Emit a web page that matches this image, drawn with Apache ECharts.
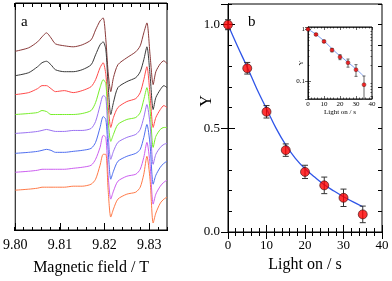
<!DOCTYPE html>
<html><head><meta charset="utf-8">
<script src="https://cdn.jsdelivr.net/npm/echarts@6/dist/echarts.min.js"></script>
<style>html,body{margin:0;padding:0;background:#fff}#c{width:392px;height:281px}</style>
</head><body><div id="c"></div>
<script>
// ---------- Panel a: EPR spectra (arbitrary intensity, offset traces) ----------
const fieldT = [9.800,9.803,9.805,9.806,9.807,9.808,9.809,9.811,9.813,9.815,9.817,9.818,9.819,9.8197,9.8203,9.8208,9.8214,9.822,9.823,9.825,9.827,9.828,9.8288,9.8295,9.8302,9.8309,9.8315,9.8325,9.8333,9.834];
const traceMaroon  = [179.5,183,189,194,198,193,187,185,184,186,191,201,210,213,191,159,139,153,166,173,179,185,198,208,176,146,159,167,170,167];
const traceBlack   = [155,158,164,168,169.5,166,161,159,159,161,166,176,186,189,181,146,116,128,143,149,153,159,171,184,156,121,133,141,145,143];
const traceRed     = [136,138,142,145,145,142,139,140,138,140,144,151,163,168,156,126,103,113,123,129,132,138,151,164,136,103,113,121,125,123];
const traceGreen   = [116,117,118,120,119,116,116,116,116,117,120,128,143,151,147,111,89,96,106,111,113,118,131,143,121,83,94,101,103,103];
const traceViolet  = [97,98,99,100,101,100,99,99,100,100,102,109,125,135,133,96,71,79,88,93,96,101,113,126,106,66,76,83,86,87];
const traceBlue    = [77,78,79,80,81,80,78,78,79,80,82,88,103,114,111,81,51,59,69,74,77,81,93,106,86,46,55,63,67,69];
const traceMagenta = [58,59,60,61,61,61,61,61,62,63,65,71,83,95,93,56,31,39,49,54,56,61,73,88,66,26,36,44,48,50];
const traceOrange  = [40,41,42,43,43,43,43,43,44,44,46,51,65,76,76,41,13,21,31,36,38,43,56,74,51,7,17,27,31,33];
const fieldTickLabels = ['9.80','9.81','9.82','9.83'];

// ---------- Panel b: decay ----------
const lightOn = [0,5,10,15,20,25,30,35];
const yValues = [1.0,0.79,0.58,0.395,0.29,0.225,0.165,0.085];
const yErr    = [0.024,0.028,0.03,0.03,0.032,0.04,0.042,0.04];
const fitT = [0,2.5,5,7.5,10,12.5,15,17.5,20,22.5,25,27.5,30,32.5,35];
const fitY = [1.0,0.895,0.795,0.69,0.595,0.50,0.42,0.355,0.305,0.265,0.228,0.198,0.17,0.145,0.122];
const yTickLabels = ['0.0','0.5','1.0'];
const insetYTickLabels = ['0.1','1'];

const traces = [traceMaroon,traceBlack,traceRed,traceGreen,traceViolet,traceBlue,traceMagenta,traceOrange];
const traceColors = ['#8a3a3a','#3a3a3a','#ff4a4a','#77ee2a','#9a72f2','#4f6ef0','#cc5ef0','#ff7a48'];

const SERIF = '"Liberation Serif", "Times New Roman", serif';
const BLK = '#000';

function errRender(capHalf, color){
  return function(params, api){
    const cs = params.coordSys;
    const x = api.value(0), lo = api.value(1), hi = api.value(2);
    const a = api.coord([x, hi]), b = api.coord([x, lo]);
    const top = Math.max(a[1], cs.y), bot = Math.min(b[1], cs.y + cs.height);
    const px = a[0];
    const st = {stroke: color, lineWidth: 1};
    const ch = [{type:'line', shape:{x1:px,y1:top,x2:px,y2:bot}, style:st}];
    if (a[1] >= cs.y) ch.push({type:'line', shape:{x1:px-capHalf,y1:a[1],x2:px+capHalf,y2:a[1]}, style:st});
    if (b[1] <= cs.y + cs.height) ch.push({type:'line', shape:{x1:px-capHalf,y1:b[1],x2:px+capHalf,y2:b[1]}, style:st});
    return {type:'group', children: ch};
  };
}
const errData = lightOn.map((t,i)=>[t, yValues[i]-yErr[i], yValues[i]+yErr[i]]);

function tickAxis(o){
  return Object.assign({
    type:'value', splitLine:{show:false},
    axisLine:{show:true, lineStyle:{color:BLK, width:1}},
    axisTick:{show:true, inside:true, length:7, lineStyle:{color:BLK, width:1}},
    axisLabel:{show:false}
  }, o);
}

const option = {
  animation:false,
  backgroundColor:'#fff',
  grid:[
    {left:14, top:3, width:153, height:228, show:true, borderColor:BLK, borderWidth:1},
    {left:14, top:3, width:153, height:228, show:false},
    {left:228, top:4, width:154, height:228, show:true, borderColor:BLK, borderWidth:1},
    {left:228, top:4, width:154, height:228, show:false},
    {left:308, top:27, width:64, height:72, show:true, borderColor:BLK, borderWidth:1, backgroundColor:'#fff'},
    {left:308, top:27, width:64, height:72, show:false}
  ],
  xAxis:[
    tickAxis({gridIndex:0, position:'bottom', min:9.80, max:9.834, interval:0.01,
      axisLabel:{show:true, fontSize:14, fontFamily:SERIF, color:BLK, margin:8, showMaxLabel:false,
        formatter:(v)=>{const s=v.toFixed(2); return fieldTickLabels.indexOf(s)>=0?s:'';}},
      name:'Magnetic field / T', nameLocation:'middle', nameGap:30,
      nameTextStyle:{fontSize:16, fontFamily:SERIF, color:BLK}}),
    tickAxis({gridIndex:0, position:'top', min:9.80, max:9.834, interval:0.01}),
    tickAxis({gridIndex:1, position:'bottom', min:9.80, max:9.834, interval:0.002, axisLine:{show:false},
      axisTick:{show:true, inside:true, length:4, lineStyle:{color:BLK, width:1}}}),
    tickAxis({gridIndex:1, position:'top', min:9.80, max:9.834, interval:0.002, axisLine:{show:false},
      axisTick:{show:true, inside:true, length:4, lineStyle:{color:BLK, width:1}}}),
    tickAxis({gridIndex:2, position:'bottom', min:0, max:40, interval:10,
      minorTick:{show:true, splitNumber:5, length:4, lineStyle:{color:BLK, width:1}},
      axisLabel:{show:true, fontSize:13, fontFamily:SERIF, color:BLK, margin:7},
      name:'Light on / s', nameLocation:'middle', nameGap:24,
      nameTextStyle:{fontSize:16, fontFamily:SERIF, color:BLK}}),
    tickAxis({gridIndex:2, position:'top', min:0, max:40, interval:10,
      minorTick:{show:true, splitNumber:5, length:4, lineStyle:{color:BLK, width:1}}}),
    tickAxis({gridIndex:4, position:'bottom', min:0, max:40, interval:10,
      axisTick:{show:true, inside:true, length:3, lineStyle:{color:BLK, width:0.6}},
      minorTick:{show:true, splitNumber:5, length:1.5, lineStyle:{color:BLK, width:0.6}},
      axisLine:{show:true, lineStyle:{color:BLK, width:0.6}},
      axisLabel:{show:true, fontSize:7, fontFamily:SERIF, color:BLK, margin:2},
      name:'Light on / s', nameLocation:'middle', nameGap:8,
      nameTextStyle:{fontSize:7, fontFamily:SERIF, color:BLK}}),
    tickAxis({gridIndex:4, position:'top', min:0, max:40, interval:10,
      axisTick:{show:true, inside:true, length:3, lineStyle:{color:BLK, width:0.6}},
      minorTick:{show:true, splitNumber:5, length:1.5, lineStyle:{color:BLK, width:0.6}},
      axisLine:{show:true, lineStyle:{color:BLK, width:0.6}}}),
    {type:'value', gridIndex:3, min:0, max:40, show:false},
    {type:'value', gridIndex:5, min:0, max:40, show:false}
  ],
  yAxis:[
    {type:'value', gridIndex:0, min:0, max:228, show:false},
    {type:'value', gridIndex:1, min:0, max:228, show:false},
    tickAxis({gridIndex:2, position:'left', min:0, max:1.1, interval:0.5,
      axisLabel:{show:true, fontSize:13, fontFamily:SERIF, color:BLK, margin:8, showMaxLabel:false,
        formatter:(v)=>{const s=v.toFixed(1); return yTickLabels.indexOf(s)>=0?s:'';}}}),
    tickAxis({gridIndex:2, position:'right', min:0, max:1.1, interval:0.5}),
    tickAxis({gridIndex:3, position:'left', min:0, max:1.1, interval:0.1, axisLine:{show:false},
      axisTick:{show:true, inside:true, length:4, lineStyle:{color:BLK, width:1}}}),
    tickAxis({gridIndex:3, position:'right', min:0, max:1.1, interval:0.1, axisLine:{show:false},
      axisTick:{show:true, inside:true, length:4, lineStyle:{color:BLK, width:1}}}),
    tickAxis({type:'log', logBase:10, gridIndex:4, position:'left', min:0.045, max:1.1,
      axisTick:{show:true, inside:true, length:3, lineStyle:{color:BLK, width:0.6}},
      axisLine:{show:true, lineStyle:{color:BLK, width:0.6}},
      axisLabel:{show:true, fontSize:7, fontFamily:SERIF, color:BLK, margin:3, showMinLabel:false, showMaxLabel:false,
        formatter:(v)=>{ if (Math.abs(v-1)<1e-6) return insetYTickLabels[1]; if (Math.abs(v-0.1)<1e-7) return insetYTickLabels[0]; return ''; }}}),
    tickAxis({type:'log', logBase:10, gridIndex:4, position:'right', min:0.045, max:1.1,
      axisTick:{show:true, inside:true, length:3, lineStyle:{color:BLK, width:0.6}},
      axisLine:{show:true, lineStyle:{color:BLK, width:0.6}}}),
    tickAxis({type:'log', logBase:10, gridIndex:5, position:'left', min:0.045, max:1.1, axisLine:{show:false},
      axisTick:{show:true, inside:true, length:1.5, lineStyle:{color:BLK, width:0.6},
        customValues:[0.05,0.06,0.07,0.08,0.09,0.2,0.3,0.4,0.5,0.6,0.7,0.8,0.9]}}),
    tickAxis({type:'log', logBase:10, gridIndex:5, position:'right', min:0.045, max:1.1, axisLine:{show:false},
      axisTick:{show:true, inside:true, length:1.5, lineStyle:{color:BLK, width:0.6},
        customValues:[0.05,0.06,0.07,0.08,0.09,0.2,0.3,0.4,0.5,0.6,0.7,0.8,0.9]}})
  ],
  graphic:[
    {type:'text', left:21, top:15, style:{text:'a', font:'15px '+SERIF, fill:BLK}},
    {type:'text', left:248, top:15, style:{text:'b', font:'15px '+SERIF, fill:BLK}},
    {type:'text', x:207, y:101, rotation:Math.PI/2, style:{text:'Y', font:'16px '+SERIF, fill:BLK, align:'center', verticalAlign:'middle'}},
    {type:'text', x:301, y:63, rotation:Math.PI/2, style:{text:'Y', font:'7px '+SERIF, fill:BLK, align:'center', verticalAlign:'middle'}}
  ],
  series:[]
};

traces.forEach((vals, k)=>{
  option.series.push({type:'line', xAxisIndex:0, yAxisIndex:0, showSymbol:false, smooth:0.25,
    data: fieldT.map((b,i)=>[b, vals[i]]),
    lineStyle:{color:traceColors[k], width:1}, silent:true});
});

option.series.push(
  {type:'line', xAxisIndex:4, yAxisIndex:2, showSymbol:false, smooth:0.4,
    data: fitT.map((t,i)=>[t, fitY[i]]), lineStyle:{color:'#2f55e8', width:1.3}, z:2},
  {type:'custom', xAxisIndex:4, yAxisIndex:2, renderItem: errRender(3, '#333'), data: errData, z:3},
  {type:'scatter', xAxisIndex:4, yAxisIndex:2, symbolSize:9,
    data: lightOn.map((t,i)=>[t, yValues[i]]),
    itemStyle:{color:'#ff0000', borderColor:'#3a1010', borderWidth:0.8}, z:4},
  {type:'line', xAxisIndex:6, yAxisIndex:6, showSymbol:false, smooth:0.3,
    data: fitT.map((t,i)=>[t, fitY[i]]), lineStyle:{color:'#7f9ff0', width:1}, z:2},
  {type:'custom', xAxisIndex:6, yAxisIndex:6, renderItem: errRender(1.5, '#666'), data: errData, z:3},
  {type:'scatter', xAxisIndex:6, yAxisIndex:6, symbolSize:4,
    data: lightOn.map((t,i)=>[t, yValues[i]]),
    itemStyle:{color:'#ff0000', borderColor:'#3a1010', borderWidth:0.5}, z:4}
);

const chart = echarts.init(document.getElementById('c'), null, {renderer:'canvas'});
chart.setOption(option);
</script>
</body></html>
